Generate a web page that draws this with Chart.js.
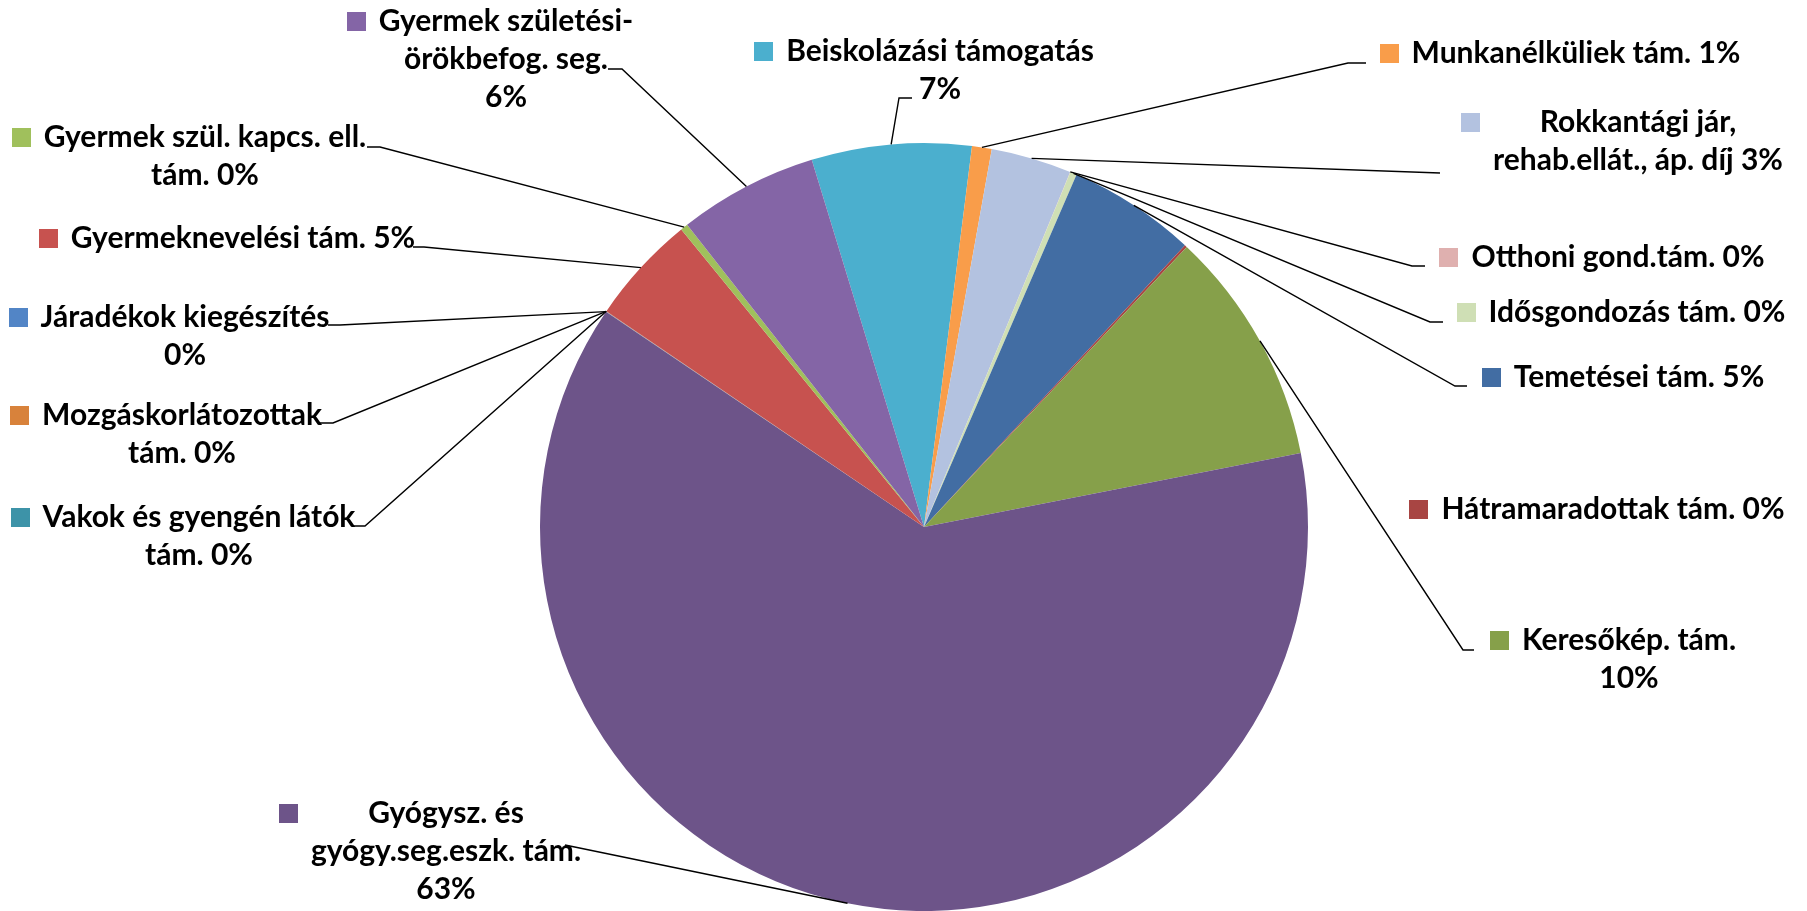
<!DOCTYPE html>
<html lang="hu">
<head>
<meta charset="utf-8">
<title>Támogatások megoszlása</title>
<script src="https://cdn.jsdelivr.net/npm/chart.js@4/dist/chart.umd.min.js"></script>
<style>
  html, body { margin: 0; padding: 0; background: #fff; }
  #wrap { width: 1807px; height: 911px; }
</style>
</head>
<body>
<div id="wrap"><canvas id="pie" width="1807" height="911"></canvas></div>
<script>
"use strict";

// ── Data (clockwise from the first slice) ─────────────────────────
const CATEGORIES = [
  "Beiskolázási támogatás",
  "Munkanélküliek tám.",
  "Rokkantági jár, rehab.ellát., áp. díj",
  "Otthoni gond.tám.",
  "Idősgondozás tám.",
  "Temetései tám.",
  "Hátramaradottak tám.",
  "Keresőkép. tám.",
  "Gyógysz. és gyógy.seg.eszk. tám.",
  "Járadékok kiegészítés",
  "Mozgáskorlátozottak tám.",
  "Vakok és gyengén látók tám.",
  "Gyermeknevelési tám.",
  "Gyermek szül. kapcs. ell. tám.",
  "Gyermek születési-örökbefog. seg."
];
const SHARES = [6.72, 0.83, 3.39, 0.01, 0.28, 5.39, 0.1, 9.92, 62.58, 0.01, 0.01, 0.01, 4.61, 0.31, 5.86];
const COLORS = [
  "#4bafce", "#f99d4a", "#b3c2e0", "#dfb0af", "#cfdfb5", "#426da3", "#a84543", "#86a04a",
  "#6d5489", "#5285c6", "#d8823b", "#3d93a8", "#c7524f", "#a0c05c", "#8465a6"
];
// label text broken the way the picture shows it; {p} = percentage
const LABEL_LINES = [
  ["Beiskolázási támogatás", "{p}"],
  ["Munkanélküliek tám. {p}"],
  ["Rokkantági jár,", "rehab.ellát., áp. díj {p}"],
  ["Otthoni gond.tám. {p}"],
  ["Idősgondozás tám. {p}"],
  ["Temetései tám. {p}"],
  ["Hátramaradottak tám. {p}"],
  ["Keresőkép. tám.", "{p}"],
  ["Gyógysz. és", "gyógy.seg.eszk. tám.", "{p}"],
  ["Járadékok kiegészítés", "{p}"],
  ["Mozgáskorlátozottak", "tám. {p}"],
  ["Vakok és gyengén látók", "tám. {p}"],
  ["Gyermeknevelési tám. {p}"],
  ["Gyermek szül. kapcs. ell.", "tám. {p}"],
  ["Gyermek születési-", "örökbefog. seg.", "{p}"]
];

// ── Label layout: text centre, first line y, leader elbow / tick end ──
const LABEL_POS = [
  { cx: 940,  y: 51,  lead: [899, 98, 912] },
  { cx: 1576, y: 53,  lead: [1348, 63, 1366] },
  { cx: 1638, y: 122, lead: [1440, 173, 1440] },
  { cx: 1618, y: 257, lead: [1412, 266, 1425] },
  { cx: 1637, y: 312, lead: [1430, 322, 1443] },
  { cx: 1639, y: 377, lead: [1455, 386, 1467] },
  { cx: 1613, y: 509, lead: null },
  { cx: 1629, y: 640, lead: [1463, 650, 1474] },
  { cx: 446,  y: 813, lead: [565, 845, 565] },
  { cx: 185,  y: 317, lead: [340, 325, 328] },
  { cx: 182,  y: 415, lead: [333, 423, 320] },
  { cx: 199,  y: 517, lead: [365, 526, 353] },
  { cx: 243,  y: 238, lead: [424, 247, 413] },
  { cx: 205,  y: 137, lead: [380, 147, 367] },
  { cx: 506,  y: 21,  lead: [622, 69, 608] }
];

const FONT = "bold 30px Lato, 'Open Sans', sans-serif";
const LINE_H = 38;
const KEY = 19;

const total = SHARES.reduce((a, b) => a + b, 0);
const pct = v => Math.round(v / total * 100) + "%";

// ── Data labels with leader lines and legend keys ─────────────────
const labelPlugin = {
  id: "excelLabels",
  afterDatasetsDraw(chart) {
    const ctx = chart.ctx;
    const arcs = chart.getDatasetMeta(0).data;
    ctx.save();
    ctx.strokeStyle = "#000";
    ctx.lineWidth = 1.4;
    arcs.forEach((arc, i) => {
      const pos = LABEL_POS[i];
      if (!pos.lead) return;
      const mid = (arc.startAngle + arc.endAngle) / 2;
      const px = arc.x + Math.cos(mid) * arc.outerRadius;
      const py = arc.y + Math.sin(mid) * arc.outerRadius;
      const [ex, ey, tx] = pos.lead;
      ctx.beginPath();
      ctx.moveTo(px, py);
      ctx.lineTo(ex, ey);
      ctx.lineTo(tx, ey);
      ctx.stroke();
    });

    ctx.font = FONT;
    ctx.textAlign = "center";
    ctx.textBaseline = "middle";
    LABEL_LINES.forEach((lines, i) => {
      const pos = LABEL_POS[i];
      const texts = lines.map(l => l.replace("{p}", pct(SHARES[i])));
      const maxW = Math.max(...texts.map(t => ctx.measureText(t).width));
      ctx.fillStyle = COLORS[i];
      ctx.fillRect(Math.round(pos.cx - maxW / 2 - 13 - KEY), Math.round(pos.y - KEY / 2), KEY, KEY);
      ctx.fillStyle = "#000";
      texts.forEach((t, k) => ctx.fillText(t, pos.cx, pos.y + k * LINE_H));
    });
    ctx.restore();
  }
};

new Chart(document.getElementById("pie"), {
  type: "pie",
  data: {
    labels: CATEGORIES,
    datasets: [{
      data: SHARES,
      backgroundColor: COLORS,
      borderWidth: 0,
      hoverOffset: 0
    }]
  },
  options: {
    responsive: false,
    devicePixelRatio: 1,
    animation: false,
    rotation: -17,
    layout: { padding: { top: 143, bottom: 0, left: 540, right: 499 } },
    plugins: {
      legend: { display: false },
      tooltip: { enabled: false }
    },
    events: []
  },
  plugins: [labelPlugin]
});
</script>
</body>
</html>
